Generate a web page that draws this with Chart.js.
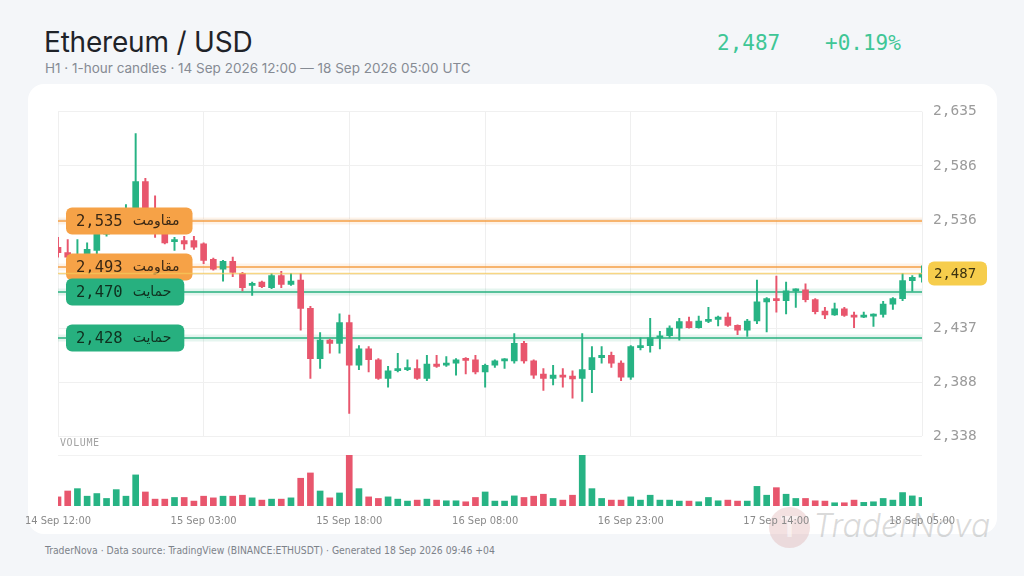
<!DOCTYPE html>
<html>
<head>
<meta charset="utf-8">
<script src="https://cdn.jsdelivr.net/npm/chart.js@4.4.1/dist/chart.umd.min.js"></script>
<style>
    html, body { margin: 0; padding: 0; }
    body {
        width: 1024px; height: 576px; overflow: hidden; position: relative;
        background: #f4f6f9; font-family: Inter, 'Noto Sans', sans-serif;
    }
    .card {
        position: absolute; left: 28px; top: 84px; width: 969px; height: 450px;
        background: #ffffff; border-radius: 16px;
    }
    .title {
        position: absolute; left: 44px; top: 28px; font-size: 28px; line-height: 29px;
        color: #1f2329; font-weight: 400; letter-spacing: -0.2px;
    }
    .subtitle {
        position: absolute; left: 45px; top: 61px; font-size: 13.5px; line-height: 14px; color: #868b94;
    }
    .quote {
        position: absolute; top: 33px; font-family: 'DejaVu Sans Mono', monospace;
        font-size: 21px; line-height: 21px; color: #3fc696;
    }
    .vol-label {
        position: absolute; left: 60px; top: 438px; font-family: 'DejaVu Sans Mono', monospace;
        font-size: 10px; line-height: 10px; color: #a3a3a3; letter-spacing: 0.6px;
    }
    .footer {
        position: absolute; left: 45px; top: 545px; font-size: 10.3px; line-height: 10px; color: #7d828a;
        font-family: 'Liberation Sans Narrow', 'DejaVu Sans Condensed', sans-serif;
    }
    .chart-box { position: absolute; left: 0; width: 1000px; }
    #priceBox { top: 92px; height: 364px; }
    #volumeBox { top: 450px; height: 90px; }
    .wm-logo {
        position: absolute; left: 769px; top: 507px; width: 41px; height: 41px; border-radius: 50%;
        background: rgba(210, 140, 140, 0.26);
    }
    .wm-logo span {
        position: absolute; left: 0; top: 4px; width: 41px; text-align: center; font-size: 28px;
        font-weight: 700; color: rgba(255, 255, 255, 0.55); line-height: 32px;
    }
    .wm-text {
        position: absolute; left: 813px; top: 509px; font-size: 32px; line-height: 34px;
        font-style: italic; font-weight: 300; color: rgba(150, 150, 150, 0.35);
    }
</style>
</head>
<body>
<div class="card"></div>
<div class="wm-logo"><span>T</span></div>
<div class="wm-text">TraderNova</div>
<div class="title">Ethereum / USD</div>
<div class="subtitle">H1 · 1-hour candles · 14 Sep 2026 12:00 — 18 Sep 2026 05:00 UTC</div>
<div class="quote" style="left:717px">2,487</div>
<div class="quote" style="left:825px">+0.19%</div>
<div class="chart-box" id="priceBox"><canvas id="priceChart"></canvas></div>
<div class="vol-label">VOLUME</div>
<div class="chart-box" id="volumeBox"><canvas id="volumeChart"></canvas></div>
<div class="footer">TraderNova · Data source: TradingView (BINANCE:ETHUSDT) · Generated 18 Sep 2026 09:46 +04</div>

<script>
// Hourly candles, 14 Sep 2026 12:00 -> 18 Sep 2026 05:00 UTC
const opens = [
    2511, 2506, 2500, 2504, 2508, 2523, 2530, 2534, 2538, 2571,
    2545, 2523, 2516, 2517, 2517, 2514, 2500, 2491, 2498, 2487,
    2476, 2479, 2474, 2485, 2477, 2481, 2455, 2409, 2426, 2423,
    2442, 2403, 2418, 2408, 2391, 2398, 2399, 2400, 2391, 2404,
    2403, 2405, 2409, 2408, 2397, 2403, 2407, 2407, 2423, 2407,
    2395, 2391, 2394, 2393, 2391, 2399, 2410, 2412, 2405, 2392,
    2419, 2421, 2428, 2430, 2437, 2443, 2437.5, 2443, 2445, 2447,
    2439.5, 2435, 2443.5, 2461, 2464, 2462, 2471, 2472, 2463, 2452.5,
    2449, 2454.7, 2448.6, 2447, 2448, 2449.5, 2459, 2464, 2480.5, 2483.5
];
const highs = [
    2520, 2518, 2518, 2515, 2525, 2536, 2540, 2550, 2615, 2574,
    2558, 2525, 2520, 2521, 2521, 2515, 2501, 2499, 2502, 2488,
    2479, 2480, 2487, 2489, 2487, 2487, 2457, 2433, 2427, 2450,
    2449, 2421, 2420, 2409, 2402, 2414, 2408, 2408, 2412, 2412,
    2411, 2409, 2410, 2412, 2404, 2408, 2409, 2432, 2425, 2408,
    2400, 2403, 2400, 2398, 2432, 2420, 2420, 2415, 2407, 2421,
    2428, 2446, 2434, 2439, 2446, 2447, 2448, 2456, 2448, 2451,
    2440, 2445, 2481, 2465, 2484.5, 2479, 2473, 2477.5, 2464, 2456,
    2460, 2456, 2451.6, 2451.6, 2450, 2461.6, 2465, 2487, 2485, 2494
];
const lows = [
    2502, 2500, 2497, 2501, 2505, 2521, 2526, 2530, 2535, 2540,
    2520, 2514, 2508, 2509, 2509, 2496, 2490, 2480, 2484, 2471,
    2467, 2474, 2473, 2474, 2476, 2435, 2391, 2400, 2414, 2414,
    2359, 2399, 2397, 2390, 2383, 2397, 2398, 2390, 2389, 2401,
    2402, 2394, 2395, 2395, 2383, 2401, 2400, 2405, 2405, 2391,
    2380, 2385, 2383, 2373, 2370, 2378, 2405, 2401, 2389, 2390,
    2417, 2415, 2418, 2428, 2426, 2437, 2437, 2442, 2439, 2438.5,
    2431, 2429.5, 2441, 2433.5, 2451.6, 2450, 2456, 2461, 2450, 2445.6,
    2448.6, 2447.7, 2437.5, 2446.5, 2438.6, 2447, 2454, 2462, 2470.7, 2479
];
const closes = [
    2506, 2502, 2504, 2509, 2523, 2530, 2534, 2538, 2571, 2545,
    2524, 2515, 2518, 2514, 2511, 2499, 2491, 2498, 2488, 2474,
    2478, 2475, 2485, 2477, 2480, 2455, 2409, 2426, 2423, 2442,
    2403, 2418, 2408, 2391, 2398, 2400, 2400, 2391, 2404, 2402,
    2405, 2408, 2407.5, 2397, 2403, 2407, 2408.5, 2423, 2407, 2394,
    2391, 2394, 2392, 2390.5, 2399, 2410, 2412, 2405, 2392, 2420,
    2421, 2428, 2430, 2437, 2443, 2437.5, 2443.5, 2445, 2447, 2439.5,
    2435, 2443.5, 2461, 2464, 2462, 2471, 2472.5, 2463, 2452, 2449,
    2454.7, 2448.6, 2447, 2449, 2449.5, 2459, 2464, 2480.5, 2483.5, 2487
];
const volumes = [
    930, 1530, 1770, 1000, 1270, 770, 1670, 1000, 3170, 1430,
    700, 700, 870, 870, 500, 1000, 830, 1000, 1000, 1100,
    830, 600, 700, 700, 830, 2830, 3370, 1530, 830, 1330,
    5170, 1770, 930, 770, 930, 700, 500, 600, 700, 600,
    530, 530, 430, 870, 1430, 500, 500, 1030, 870, 1000,
    1200, 770, 600, 1100, 5200, 1770, 770, 600, 600, 930,
    600, 1100, 600, 600, 500, 500, 430, 870, 530, 600,
    500, 500, 2000, 1100, 1870, 1200, 770, 770, 530, 500,
    330, 330, 600, 370, 430, 770, 600, 1370, 1030, 870
];

// Axis ticks
const tickIndex = [0, 15, 30, 44, 59, 74, 89];
const tickLabels = ['14 Sep 12:00', '15 Sep 03:00', '15 Sep 18:00', '16 Sep 08:00', '16 Sep 23:00', '17 Sep 14:00', '18 Sep 05:00'];
const priceTicks = [2338, 2387.5, 2437, 2486.5, 2536, 2585.5, 2635];

// Support / resistance levels
const levelPrices = [2535, 2493, 2470, 2428];
const levelKinds = ['resistance', 'resistance', 'support', 'support'];
const levelNames = ['مقاومت', 'مقاومت', 'حمایت', 'حمایت'];
const lastPrice = 2487;

const UP = '#27b384';
const DOWN = '#e8566d';
const ORANGE = '#f59f45';
const GREEN = '#27b07f';
const MONO = "'DejaVu Sans Mono', monospace";

// hourly category labels
const START = Date.UTC(2026, 8, 14, 12);
const MONTHS = ['Jan', 'Feb', 'Mar', 'Apr', 'May', 'Jun', 'Jul', 'Aug', 'Sep', 'Oct', 'Nov', 'Dec'];
const categories = opens.map((_, i) => {
    const d = new Date(START + i * 3600000);
    return `${d.getUTCDate()} ${MONTHS[d.getUTCMonth()]} ${String(d.getUTCHours()).padStart(2, '0')}:00`;
});
const candleColors = opens.map((o, i) => closes[i] >= o ? UP : DOWN);

const fmt = v => Math.round(v).toLocaleString('en-US');

function badge(ctx, x, y, w, h, color) {
    ctx.fillStyle = color;
    ctx.beginPath();
    ctx.roundRect(x, y - h / 2, w, h, 6);
    ctx.fill();
}

// Draws the level lines, their labels and the last price marker
const levelPlugin = {
    id: 'levels',
    beforeDatasetsDraw(chart) {
        const { ctx, chartArea: a, scales: { y } } = chart;
        levelPrices.forEach((p, i) => {
            const py = y.getPixelForValue(p);
            const col = levelKinds[i] === 'resistance' ? ORANGE : GREEN;
            ctx.save();
            ctx.strokeStyle = col;
            ctx.globalAlpha = 0.12;
            ctx.lineWidth = 7;
            ctx.beginPath(); ctx.moveTo(a.left, py); ctx.lineTo(a.right, py); ctx.stroke();
            ctx.globalAlpha = 1;
            ctx.lineWidth = 1.5;
            ctx.beginPath(); ctx.moveTo(a.left, py); ctx.lineTo(a.right, py); ctx.stroke();
            ctx.restore();
        });
    },
    afterDatasetsDraw(chart) {
        const { ctx, chartArea: a, scales: { y } } = chart;
        ctx.save();
        levelPrices.forEach((p, i) => {
            const py = y.getPixelForValue(p);
            const isRes = levelKinds[i] === 'resistance';
            ctx.font = `15.5px ${MONO}`;
            const numW = ctx.measureText(fmt(p)).width;
            ctx.font = "14px 'DejaVu Sans', sans-serif";
            const wordW = ctx.measureText(levelNames[i]).width;
            const x0 = a.left + 8;
            const w = 10 + numW + 10 + wordW + 13;
            badge(ctx, x0, py, w, 27, isRes ? '#f6a247' : '#27b07f');
            ctx.fillStyle = isRes ? '#3a2815' : '#10301f';
            ctx.textBaseline = 'middle';
            ctx.textAlign = 'left';
            ctx.font = `15.5px ${MONO}`;
            ctx.fillText(fmt(p), x0 + 10, py + 1);
            ctx.font = "14px 'DejaVu Sans', sans-serif";
            ctx.fillText(levelNames[i], x0 + 20 + numW, py);
        });

        // last price line + badge
        const ly = y.getPixelForValue(lastPrice);
        ctx.strokeStyle = 'rgba(245, 200, 90, 0.75)';
        ctx.lineWidth = 1.5;
        ctx.beginPath(); ctx.moveTo(a.left, ly); ctx.lineTo(a.right, ly); ctx.stroke();
        badge(ctx, a.right + 6, ly, 59, 24, '#f6cd4c');
        ctx.fillStyle = '#3b3210';
        ctx.font = `14px ${MONO}`;
        ctx.textAlign = 'left';
        ctx.textBaseline = 'middle';
        ctx.fillText(fmt(lastPrice), a.right + 12, ly + 1);
        ctx.restore();
    }
};

const xGrid = ctx => tickIndex.includes(ctx.index) ? '#efefef' : 'rgba(0,0,0,0)';

function createPriceChart() {
    const ctx = document.getElementById('priceChart').getContext('2d');
    return new Chart(ctx, {
        type: 'bar',
        data: {
            labels: categories,
            datasets: [
                {
                    label: 'wick',
                    data: lows.map((l, i) => [l, highs[i]]),
                    backgroundColor: candleColors,
                    barThickness: 1.3,
                    grouped: false
                },
                {
                    label: 'body',
                    data: opens.map((o, i) => [o, closes[i]]),
                    backgroundColor: candleColors,
                    barThickness: 6,
                    minBarLength: 2,
                    grouped: false
                }
            ]
        },
        options: {
            responsive: true,
            maintainAspectRatio: false,
            animation: false,
            layout: { padding: { left: 58, top: 10, bottom: 9, right: 0 } },
            plugins: { legend: { display: false }, tooltip: { enabled: false } },
            scales: {
                x: {
                    offset: false,
                    grid: { offset: false, color: xGrid, drawTicks: false },
                    border: { display: false },
                    ticks: { display: false, autoSkip: false }
                },
                y: {
                    position: 'right',
                    min: priceTicks[0],
                    max: priceTicks[priceTicks.length - 1],
                    afterBuildTicks: s => { s.ticks = priceTicks.map(v => ({ value: v })); },
                    afterFit: s => { s.width = 78; },
                    grid: { color: '#f0f0f0', drawTicks: false },
                    border: { display: false },
                    ticks: {
                        padding: 11,
                        color: '#9b9b9b',
                        font: { family: MONO, size: 14.5 },
                        callback: v => fmt(v)
                    }
                }
            }
        },
        plugins: [levelPlugin]
    });
}

function createVolumeChart() {
    const ctx = document.getElementById('volumeChart').getContext('2d');
    return new Chart(ctx, {
        type: 'bar',
        data: {
            labels: categories,
            datasets: [{
                label: 'Volume',
                data: volumes,
                backgroundColor: candleColors,
                barThickness: 6
            }]
        },
        options: {
            responsive: true,
            maintainAspectRatio: false,
            animation: false,
            layout: { padding: { left: 58, top: 5, bottom: 0, right: 0 } },
            plugins: { legend: { display: false }, tooltip: { enabled: false } },
            scales: {
                x: {
                    offset: false,
                    grid: { display: false },
                    border: { display: false },
                    afterFit: s => { s.height = 34; },
                    ticks: {
                        autoSkip: false,
                        maxRotation: 0,
                        padding: 1,
                        color: '#8a8a8a',
                        font: { family: "'Liberation Sans Narrow', 'DejaVu Sans Condensed', sans-serif", size: 11 },
                        callback: (v, i) => {
                            const k = tickIndex.indexOf(i);
                            return k >= 0 ? tickLabels[k] : '';
                        }
                    }
                },
                y: {
                    position: 'right',
                    min: 0,
                    max: 5200,
                    afterBuildTicks: s => { s.ticks = [{ value: 5200 }]; },
                    afterFit: s => { s.width = 78; },
                    grid: { color: '#f2f2f2', drawTicks: false },
                    border: { display: false },
                    ticks: { display: false }
                }
            }
        }
    });
}

document.addEventListener('DOMContentLoaded', () => {
    createPriceChart();
    createVolumeChart();
});
</script>
</body>
</html>
